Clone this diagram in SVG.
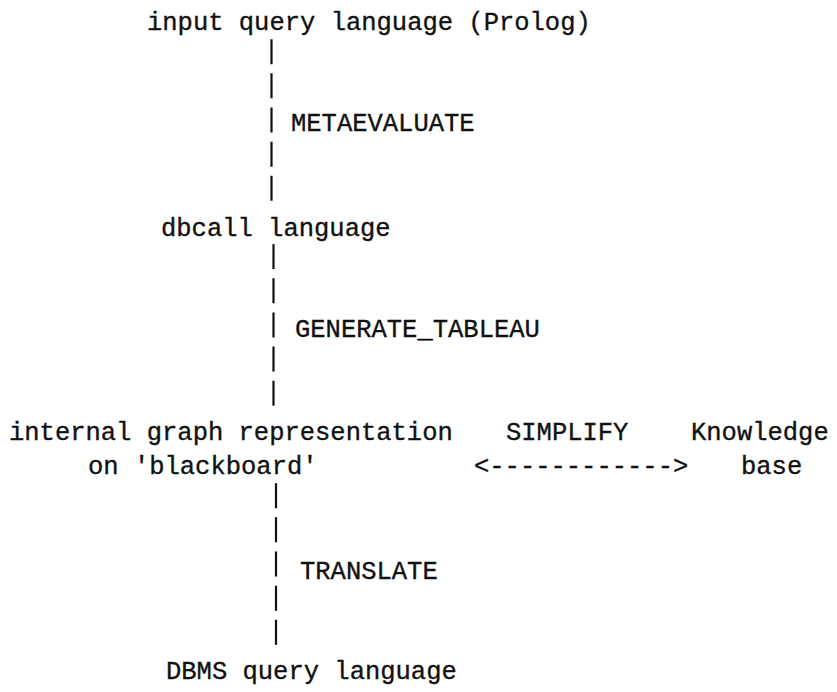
<svg xmlns="http://www.w3.org/2000/svg" width="837" height="692" viewBox="0 0 837 692">
<style>
  text { font-family: "Liberation Mono", "Courier New", monospace; font-size: 25.5px; fill: #111; stroke: #111; stroke-width: 0.35px; }
  .bar { stroke: #111; stroke-width: 2.2; fill: none; stroke-dasharray: 25 9.16; }
</style>
<rect width="837" height="692" fill="#fff"/>
<g id="connectors">
  <line class="bar" x1="271.5" y1="39.2" x2="271.5" y2="200.8"/>
  <line class="bar" x1="273.5" y1="244.1" x2="273.5" y2="405.8"/>
  <line class="bar" x1="276" y1="483.2" x2="276" y2="644.9"/>
  <text x="291" y="131">METAEVALUATE</text>
  <text x="295" y="337">GENERATE_TABLEAU</text>
  <text x="300" y="579">TRANSLATE</text>
  <text x="506" y="440">SIMPLIFY</text>
  <text x="474" y="474">&lt;------------&gt;</text>
</g>
<g id="n-input"><text x="147" y="30">input query language (Prolog)</text></g>
<g id="n-dbcall"><text x="161" y="236">dbcall language</text></g>
<g id="n-internal">
  <text x="9" y="440">internal graph representation</text>
  <text x="88" y="474">on 'blackboard'</text>
</g>
<g id="n-kb">
  <text x="691" y="440">Knowledge</text>
  <text x="741" y="474">base</text>
</g>
<g id="n-dbms"><text x="166" y="679">DBMS query language</text></g>
</svg>
